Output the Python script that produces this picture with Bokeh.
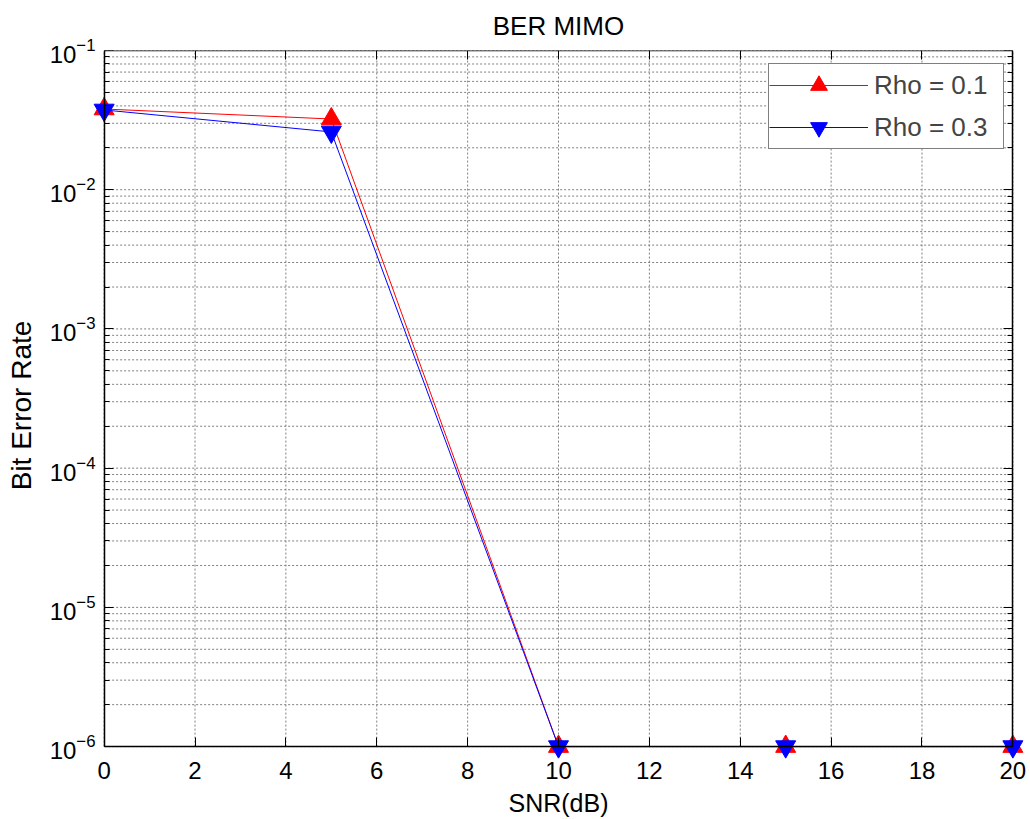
from bokeh.plotting import figure
from bokeh.models import Range1d, LinearAxis, LogAxis, FixedTicker, Legend, LegendItem
from bokeh.embed import file_html
from bokeh.resources import INLINE

# BER curves for two antenna-correlation values
snr_db = [0, 5, 10, 15, 20]
ber_rho_01 = [0.0380, 0.0322, 1e-6, 1e-6, 1e-6]
ber_rho_03 = [0.0374, 0.0260, 1e-6, 1e-6, 1e-6]
series_labels = ["Rho = 0.1", "Rho = 0.3"]
chart_title = "BER MIMO"

x_ticks = [0, 2, 4, 6, 8, 10, 12, 14, 16, 18, 20]
y_ticks = [1e-6, 1e-5, 1e-4, 1e-3, 1e-2, 1e-1]
y_minor = [k * 10.0 ** d for d in range(-6, -1) for k in range(2, 10)]

X_LO, X_HI = x_ticks[0], x_ticks[-1]
Y_LO, Y_HI = y_ticks[0], y_ticks[-1]

FONT = "Liberation Sans"
GRID = "#808080"

# the frame is a little larger than the axes box so that markers sitting
# on the box edges are drawn whole
p = figure(
    frame_width=936, frame_height=710,
    x_range=Range1d(-0.3, 20.3), y_range=Range1d(10 ** -6.1, 0.1),
    y_axis_type="log",
    output_backend="svg", toolbar_location=None,
    min_border_left=90, min_border_right=4, min_border_top=50, min_border_bottom=59,
)
p.outline_line_color = None
p.background_fill_color = "white"
p.xgrid.visible = False
p.ygrid.visible = False

p.title.text = chart_title
p.title.align = "center"
p.title.vertical_align = "top"
p.title.standoff = 16
p.title.text_font = FONT
p.title.text_font_size = "26px"
p.title.text_font_style = "normal"
p.title.text_color = "black"


def box_side(ax, minor):
    """Axis used only for the box edge and its inward ticks."""
    ax.axis_line_color = "black"
    ax.axis_line_width = 1.5
    ax.major_tick_in = 9
    ax.major_tick_out = 0
    ax.major_tick_line_color = "black"
    if minor:
        ax.minor_tick_in = 5
        ax.minor_tick_out = 0
        ax.minor_tick_line_color = "black"
    else:
        ax.minor_tick_line_color = None
    ax.major_label_text_font_size = "2px"
    ax.major_label_text_color = None


def label_side(ax, title_size):
    """Axis used only for the tick labels and the axis title."""
    ax.axis_line_color = None
    ax.major_tick_line_color = None
    ax.minor_tick_line_color = None
    ax.major_tick_in = 0
    ax.major_tick_out = 0
    ax.minor_tick_in = 0
    ax.minor_tick_out = 0
    ax.major_label_text_font = FONT
    ax.major_label_text_font_size = "24px"
    ax.major_label_text_color = "black"
    ax.axis_label_text_font = FONT
    ax.axis_label_text_font_size = title_size
    ax.axis_label_text_font_style = "normal"
    ax.axis_label_text_color = "black"


# labels
xb = p.xaxis[0]
xb.ticker = FixedTicker(ticks=x_ticks)
xb.axis_label = "SNR(dB)"
xb.major_label_standoff = 1
xb.axis_label_standoff = 7
label_side(xb, "25px")

yl = p.yaxis[0]
yl.ticker = FixedTicker(ticks=y_ticks)
yl.axis_label = "Bit Error Rate"
yl.major_label_standoff = -5
yl.axis_label_standoff = 10
label_side(yl, "28px")

# box edges with ticks
for loc, fixed in (("below", Y_LO), ("above", Y_HI)):
    ax = LinearAxis(ticker=FixedTicker(ticks=x_ticks), bounds=(X_LO, X_HI),
                    fixed_location=fixed)
    box_side(ax, False)
    p.add_layout(ax, loc)
for loc, fixed in (("left", X_LO), ("right", X_HI)):
    ax = LogAxis(ticker=FixedTicker(ticks=y_ticks, minor_ticks=y_minor),
                 bounds=(Y_LO, Y_HI), fixed_location=fixed)
    box_side(ax, True)
    p.add_layout(ax, loc)

# dotted grid confined to the axes box
p.segment(x0=x_ticks, y0=[Y_LO] * len(x_ticks), x1=x_ticks, y1=[Y_HI] * len(x_ticks),
          line_color=GRID, line_dash="2 2", line_width=1, level="underlay")
y_grid = y_ticks + y_minor
p.segment(x0=[X_LO] * len(y_grid), y0=y_grid, x1=[X_HI] * len(y_grid), y1=y_grid,
          line_color=GRID, line_dash="2 2", line_width=1, level="underlay")

l1 = p.line(snr_db, ber_rho_01, line_color="red", line_width=1)
m1 = p.scatter(snr_db, ber_rho_01, marker="triangle", size=20,
               fill_color="red", line_color="red")
l2 = p.line(snr_db, ber_rho_03, line_color="blue", line_width=1)
m2 = p.scatter(snr_db, ber_rho_03, marker="inverted_triangle", size=20,
               fill_color="blue", line_color="blue")

legend = Legend(
    items=[LegendItem(label=series_labels[0], renderers=[l1, m1]),
           LegendItem(label=series_labels[1], renderers=[l2, m2])],
    location=(678, 611),
    label_text_font=FONT, label_text_font_size="26px",
    glyph_width=99, glyph_height=42, label_height=42, label_width=129,
    label_standoff=6, spacing=0, padding=0,
    border_line_color="black", border_line_width=1,
    background_fill_color="white", background_fill_alpha=1,
)
p.add_layout(legend, "center")

open("out.html", "w").write(file_html(p, INLINE))
